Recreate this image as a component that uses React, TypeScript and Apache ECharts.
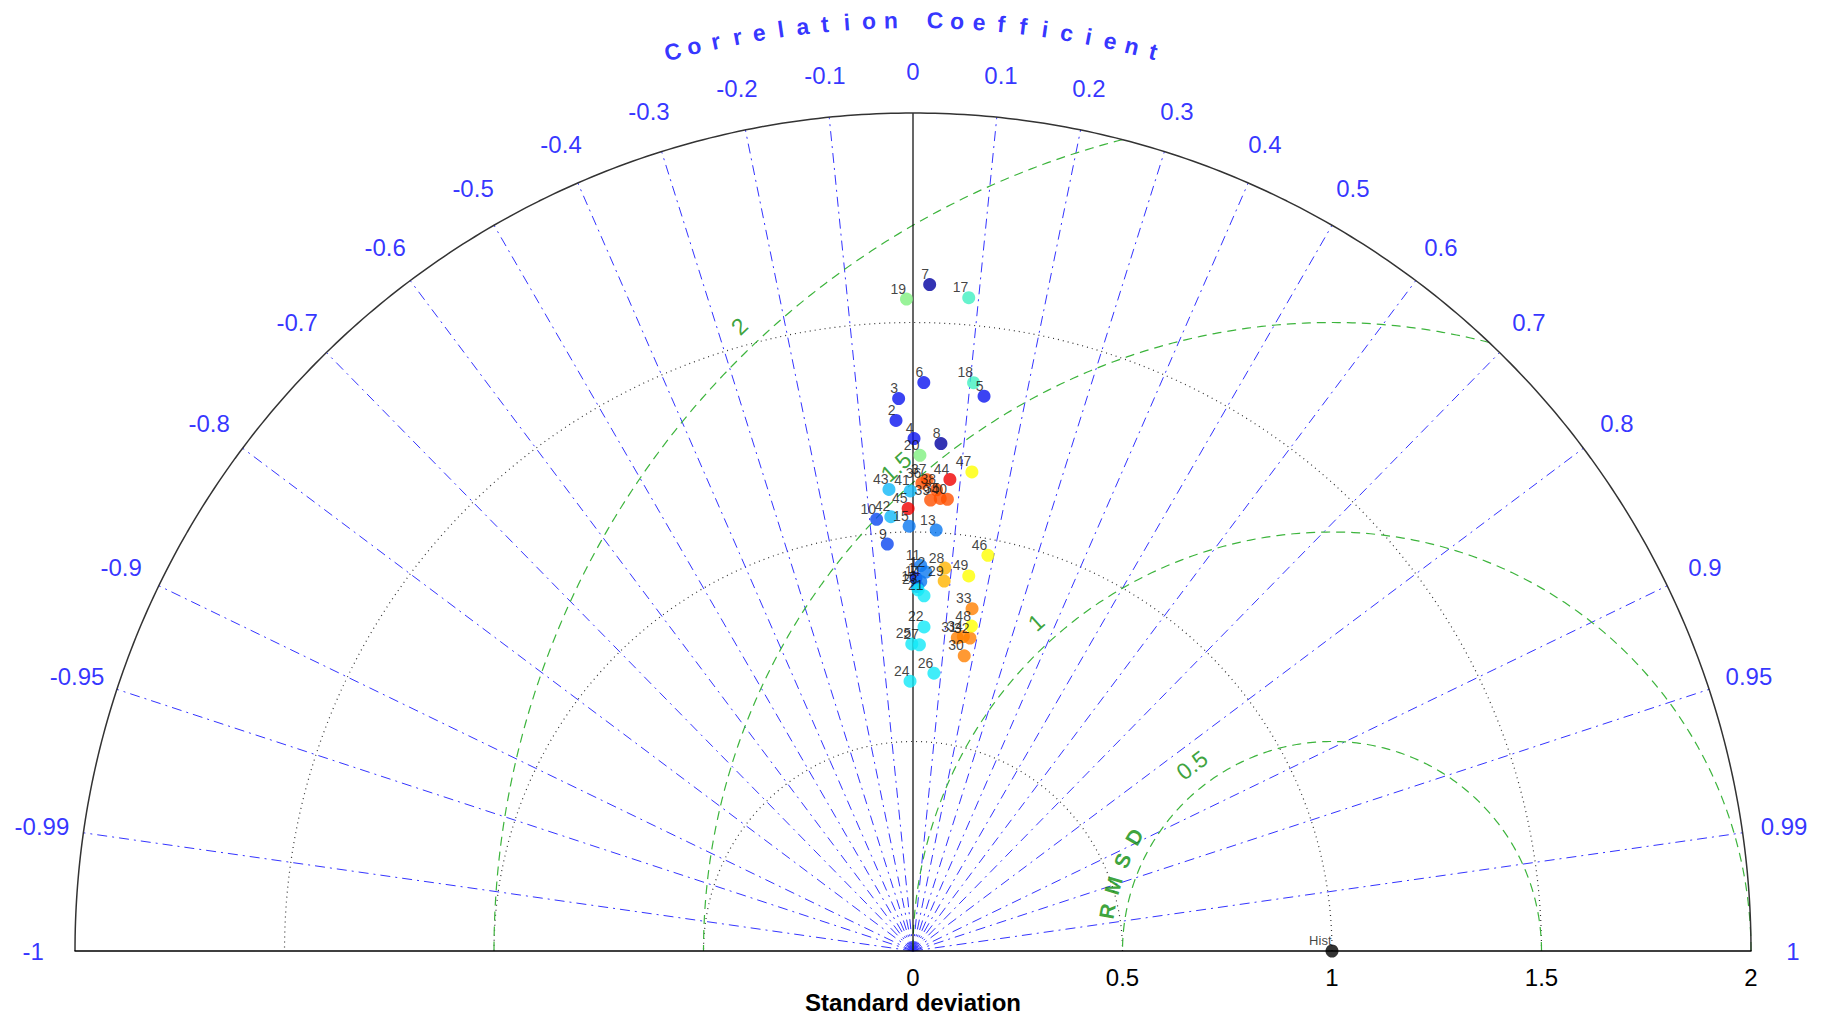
import React, { useEffect, useRef } from 'react';
import * as echarts from 'echarts';

// Model identifiers, standard deviations and correlation coefficients
const modelIds = [
  '1', '2', '3', '4', '5', '6', '7', '8', '9', '10',
  '11', '12', '13', '14', '15', '16', '17', '18', '19', '20',
  '21', '22', '23', '24', '25', '26', '27', '28', '29', '30',
  '31', '32', '33', '34', '35', '36', '37', '38', '39', '40',
  '41', '42', '43', '44', '45', '46', '47', '48', '49',
];
const stdDevs = [
  0.890, 1.267, 1.319, 1.223, 1.335, 1.357, 1.591, 1.213, 0.973, 1.034,
  0.920, 0.905, 1.006, 0.882, 1.014, 0.870, 1.565, 1.364, 1.556, 1.183,
  0.848, 0.774, 0.862, 0.644, 0.733, 0.665, 0.731, 0.917, 0.886, 0.715,
  0.755, 0.759, 0.829, 0.760, 1.082, 1.117, 1.125, 1.102, 1.077, 1.081,
  1.098, 1.038, 1.103, 1.129, 1.056, 0.961, 1.152, 0.788, 0.905,
];
const corrCoefs = [
  0.008, -0.032, -0.026, 0.002, 0.127, 0.019, 0.025, 0.055, -0.063, -0.084,
  0.020, 0.034, 0.055, 0.021, -0.009, 0.012, 0.085, 0.106, -0.010, 0.014,
  0.031, 0.034, 0.014, -0.011, -0.004, 0.075, 0.021, 0.083, 0.084, 0.171,
  0.140, 0.179, 0.170, 0.158, 0.060, 0.019, 0.030, 0.051, 0.039, 0.076,
  -0.006, -0.051, -0.052, 0.078, -0.011, 0.186, 0.122, 0.177, 0.147,
];
const modelColors = [
  '#0a28f5', '#0a14f0', '#0a14f0', '#0a14f0', '#0a14f0', '#0a14f0', '#0000a0', '#0000a0', '#0a46f0', '#0a46f0',
  '#0a78f0', '#0a78f0', '#0a78f0', '#0a78f0', '#0a78f0', '#0a78f0', '#40f0c0', '#40f0c0', '#80f080', '#80f080',
  '#10e8f8', '#10e8f8', '#10e8f8', '#10e8f8', '#10e8f8', '#10e8f8', '#10e8f8', '#ffb400', '#ffb400', '#ff8000',
  '#ff8000', '#ff8000', '#ff8000', '#ff8000', '#ff5000', '#ff5000', '#ff5000', '#ff5000', '#ff5000', '#ff5000',
  '#10b8f8', '#10b8f8', '#10b8f8', '#f00000', '#f00000', '#ffff00', '#ffff00', '#ffff00', '#ffff00',
];

// Reference (observations)
const refName = 'Hist';
const refStd = 1;
const refCorr = 1;

// Axes and grid levels
const maxStd = 2;
const stdTicks = [0, 0.5, 1, 1.5, 2];
const stdArcs = [0.5, 1, 1.5];
const corrTicks = [
  -1, -0.99, -0.95, -0.9, -0.8, -0.7, -0.6, -0.5, -0.4, -0.3, -0.2, -0.1,
  0, 0.1, 0.2, 0.3, 0.4, 0.5, 0.6, 0.7, 0.8, 0.9, 0.95, 0.99, 1,
];
const rmsdLevels = [0.5, 1, 1.5, 2];
const rmsdLabelAngles = [127, 132, 132, 133.5];
const corrTitle = 'Correlation Coefficient';
const rmsdTitle = 'RMSD';

const FONT = "'Liberation Sans', Arial, Helvetica, sans-serif";
const DEG = Math.PI / 180;

const toXY = (s: number, r: number): [number, number] => [s * r, s * Math.sqrt(Math.max(0, 1 - r * r))];

function circle(cx: number, rad: number, a0: number, a1: number, steps = 240): [number, number][] {
  const pts: [number, number][] = [];
  for (let i = 0; i <= steps; i++) {
    const a = (a0 + ((a1 - a0) * i) / steps) * DEG;
    pts.push([cx + rad * Math.cos(a), rad * Math.sin(a)]);
  }
  return pts;
}

function lineSeries(data: [number, number][], color: string, type: any, width: number, z = 2) {
  return {
    type: 'line',
    data,
    showSymbol: false,
    symbol: 'none',
    silent: true,
    clip: false,
    z,
    lineStyle: { color, type, width },
  };
}

function textSeries(data: any[], label: any) {
  return {
    type: 'scatter',
    silent: true,
    clip: false,
    symbolSize: 0,
    itemStyle: { color: 'rgba(0,0,0,0)' },
    data,
    label: { show: true, position: 'inside', formatter: '{b}', fontFamily: FONT, ...label },
    z: 5,
  };
}

function buildOption() {
  const series: any[] = [];

  // std-dev dotted arcs
  stdArcs.forEach((s) => series.push(lineSeries(circle(0, s, 0, 180), '#333333', [1, 4], 1.2)));

  // correlation rays
  corrTicks.forEach((c) => {
    if (Math.abs(c) >= 1) return;
    const end = toXY(maxStd, c);
    if (c === 0) series.push(lineSeries([[0, 0], end], '#000000', 'solid', 1.2, 3));
    else series.push(lineSeries([[0, 0], end], '#3434ff', [10, 5, 2, 5], 1));
  });

  // RMSD arcs centred on the reference point
  const [refX] = toXY(refStd, refCorr);
  rmsdLevels.forEach((d) => {
    const c0 = (maxStd * maxStd - refX * refX - d * d) / (2 * d * refX);
    const a0 = c0 >= 1 ? 0 : Math.acos(c0) / DEG;
    series.push(lineSeries(circle(refX, d, a0, 180), '#3cb43c', [9, 6], 1.2));
  });

  // outer boundary
  series.push(lineSeries(circle(0, maxStd, 0, 180, 360), '#333333', 'solid', 1.5, 4));

  // correlation tick labels
  series.push(
    textSeries(
      corrTicks.map((c) => ({ name: String(c), value: toXY(maxStd * 1.05, c) })),
      { color: '#0000ff', fontSize: 24 },
    ),
  );

  // curved axis title
  const step = 1.36;
  const mid = (corrTitle.length - 1) / 2;
  const titleData: any[] = [];
  corrTitle.split('').forEach((ch, i) => {
    if (ch === ' ') return;
    const ang = 90 + (mid - i) * step;
    titleData.push({
      name: ch,
      value: [2.222 * Math.cos(ang * DEG), 2.222 * Math.sin(ang * DEG)],
      label: { rotate: ang - 90 },
    });
  });
  series.push(textSeries(titleData, { color: '#0000ff', fontSize: 23, fontWeight: 'bold' }));

  // RMSD level labels
  series.push(
    textSeries(
      rmsdLevels.map((d, i) => {
        const a = rmsdLabelAngles[i];
        const rr = d + 0.055;
        return {
          name: String(d),
          value: [refX + rr * Math.cos(a * DEG), rr * Math.sin(a * DEG)],
          label: { rotate: a - 90 },
        };
      }),
      { color: '#0a8c0a', fontSize: 23 },
    ),
  );

  // "RMSD" lettering along the smallest arc
  series.push(
    textSeries(
      rmsdTitle.split('').map((ch, i) => {
        const a = 170 - (i * 20) / 3;
        const rr = rmsdLevels[0] + 0.045;
        return {
          name: ch,
          value: [refX + rr * Math.cos(a * DEG), rr * Math.sin(a * DEG)],
          label: { rotate: a - 90 },
        };
      }),
      { color: '#0a8c0a', fontSize: 21, fontWeight: 'bold' },
    ),
  );

  // models
  series.push({
    type: 'scatter',
    symbol: 'circle',
    symbolSize: 13,
    clip: false,
    z: 10,
    data: modelIds.map((id, i) => ({
      name: id,
      value: toXY(stdDevs[i], corrCoefs[i]),
      itemStyle: { color: modelColors[i] },
    })),
    label: {
      show: true,
      position: [6, 3],
      align: 'right',
      verticalAlign: 'bottom',
      formatter: '{b}',
      color: '#111111',
      fontSize: 14,
      fontFamily: FONT,
    },
  });

  // reference point
  series.push({
    type: 'scatter',
    symbol: 'circle',
    symbolSize: 13,
    clip: false,
    z: 11,
    data: [{ name: refName, value: toXY(refStd, refCorr) }],
    itemStyle: { color: '#000000' },
    label: {
      show: true,
      position: [6, 2],
      align: 'right',
      verticalAlign: 'bottom',
      formatter: '{b}',
      color: '#111111',
      fontSize: 13,
      fontFamily: FONT,
    },
  });

  return {
    animation: false,
    backgroundColor: '#ffffff',
    grid: { left: 75, top: 113, width: 1676, height: 838, containLabel: false },
    xAxis: {
      type: 'value',
      min: -maxStd,
      max: maxStd,
      interval: 0.5,
      axisLine: { show: true, lineStyle: { color: '#000000', width: 1.5 } },
      axisTick: { show: false },
      splitLine: { show: false },
      axisLabel: {
        margin: 14,
        color: '#000000',
        fontSize: 24,
        fontFamily: FONT,
        formatter: (v: number) => (stdTicks.some((t) => Math.abs(t - v) < 1e-9) ? String(v) : ''),
      },
      z: 6,
    },
    yAxis: {
      type: 'value',
      min: 0,
      max: maxStd,
      show: false,
      splitLine: { show: false },
    },
    graphic: [
      {
        type: 'text',
        x: 913,
        y: 1002,
        style: {
          text: 'Standard deviation',
          font: `bold 24px ${FONT}`,
          fill: '#000000',
          align: 'center',
          verticalAlign: 'middle',
          textAlign: 'center',
          textVerticalAlign: 'middle',
        },
      },
    ],
    series,
  };
}

export default function App() {
  const ref = useRef<HTMLDivElement>(null);
  useEffect(() => {
    if (!ref.current) return;
    const chart = echarts.init(ref.current, undefined, { renderer: 'svg' });
    chart.setOption(buildOption() as any);
    return () => chart.dispose();
  }, []);
  return (
    <div
      ref={ref}
      style={{ position: 'fixed', left: 0, top: 0, width: 1827, height: 1016, background: '#fff' }}
    />
  );
}
